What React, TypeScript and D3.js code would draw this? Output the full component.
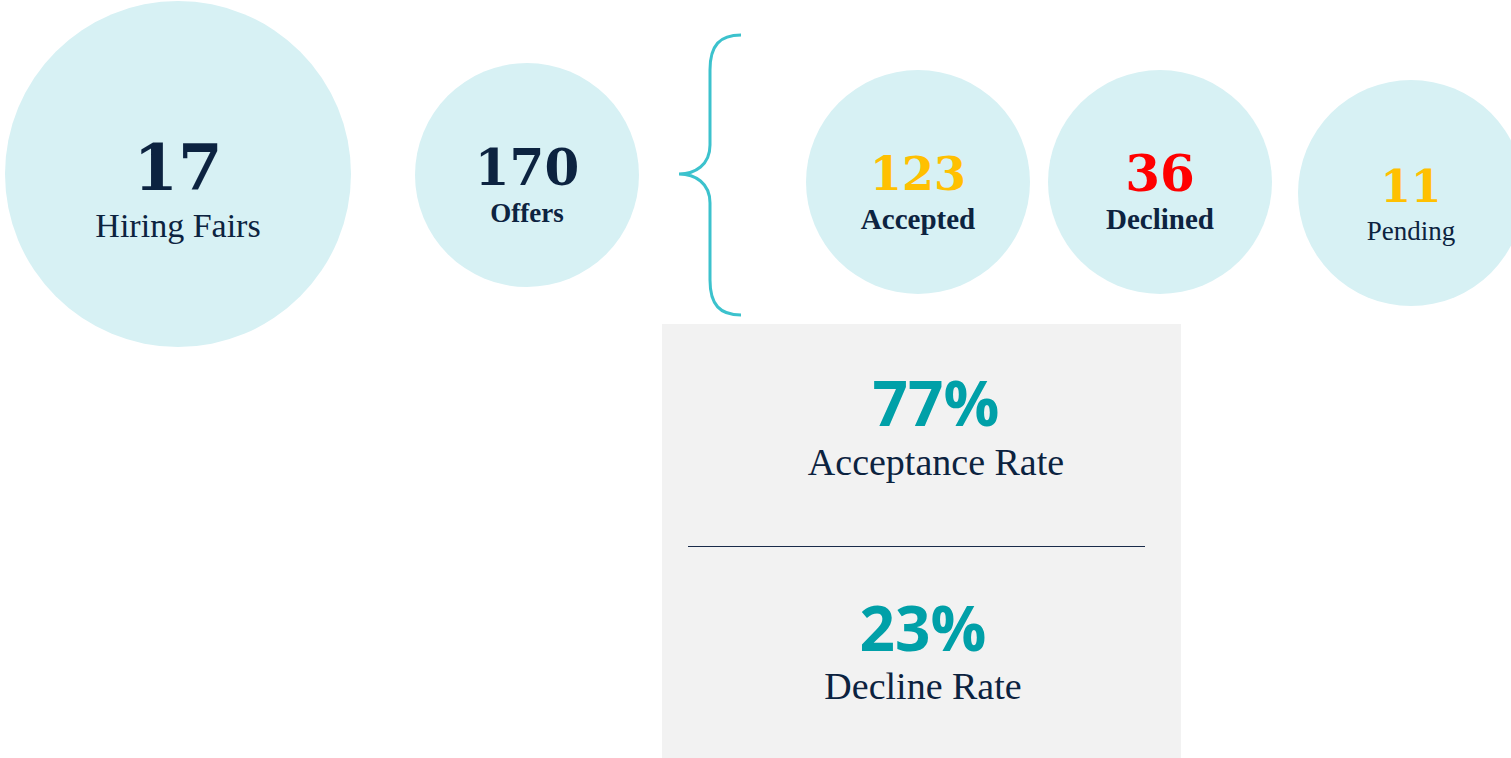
import React, { useRef, useEffect } from 'react';
import * as d3 from 'd3';

const metricLabels = ['Hiring Fairs', 'Offers', 'Accepted', 'Declined', 'Pending'];
const metricValues = [17, 170, 123, 36, 11];
const metricColors = ['#0c2340', '#0c2340', '#ffc000', '#ff0000', '#ffc000'];
const metricBold = [false, true, true, true, false];

const rateLabels = ['Acceptance Rate', 'Decline Rate'];
const rateValues = [77, 23];

// layout (not data)
const circleX = [178, 527, 918, 1160, 1411];
const circleY = [174, 175, 182, 182, 193];
const circleR = [173, 112, 112, 112, 113];
const numSize = [64, 50, 46, 50, 44];
const numBase = [190, 185, 190, 191, 202];
const labSize = [34, 27, 29, 29, 27];
const labBase = [237, 222, 229, 229, 240];

const navy = '#0c2340';
const serifNum = "'DejaVu Serif', serif";
const serifText = "'Liberation Serif', 'Times New Roman', serif";

function App() {
    const ref = useRef(null);
    useEffect(() => {
        const svg = d3.select(ref.current);
        svg.selectAll('*').remove();

        const data = metricLabels.map((label, i) => ({
            label,
            value: metricValues[i],
            color: metricColors[i],
            bold: metricBold[i],
            x: circleX[i], y: circleY[i], r: circleR[i],
            ns: numSize[i], nb: numBase[i], ls: labSize[i], lb: labBase[i]
        }));

        const fmt = d3.format('d');

        const g = svg.selectAll('g.metric').data(data).enter().append('g').attr('class', 'metric');
        g.append('circle')
            .attr('cx', d => d.x)
            .attr('cy', d => d.y)
            .attr('r', d => d.r)
            .attr('fill', '#d7f1f4');
        g.append('text')
            .attr('x', d => d.x)
            .attr('y', d => d.nb)
            .attr('text-anchor', 'middle')
            .attr('font-family', serifNum)
            .attr('font-weight', 'bold')
            .attr('font-size', d => d.ns)
            .attr('fill', d => d.color)
            .text(d => fmt(d.value));
        g.append('text')
            .attr('x', d => d.x)
            .attr('y', d => d.lb)
            .attr('text-anchor', 'middle')
            .attr('font-family', serifText)
            .attr('font-weight', d => d.bold ? 'bold' : 'normal')
            .attr('font-size', d => d.ls)
            .attr('fill', navy)
            .text(d => d.label);

        // curly brace from Offers to the breakdown
        const brace = d3.path();
        brace.moveTo(741, 35);
        brace.bezierCurveTo(720, 35, 710, 45, 710, 70);
        brace.lineTo(710, 145);
        brace.bezierCurveTo(710, 165, 695, 174, 679, 174);
        brace.bezierCurveTo(695, 174, 710, 183, 710, 203);
        brace.lineTo(710, 280);
        brace.bezierCurveTo(710, 305, 720, 315, 741, 315);
        svg.append('path')
            .attr('d', brace.toString())
            .attr('fill', 'none')
            .attr('stroke', '#3cc2cd')
            .attr('stroke-width', 3);

        // rates panel
        svg.append('rect')
            .attr('x', 662).attr('y', 324)
            .attr('width', 519).attr('height', 440)
            .attr('fill', '#f2f2f2');
        svg.append('line')
            .attr('x1', 688).attr('x2', 1145)
            .attr('y1', 546.5).attr('y2', 546.5)
            .attr('stroke', '#1a2b4a').attr('stroke-width', 1);

        const rateX = [936, 923];
        const rateNumBase = [426, 651];
        const rateLabBase = [475, 699];
        const rg = svg.selectAll('g.rate').data(rateValues).enter().append('g').attr('class', 'rate');
        rg.append('text')
            .attr('x', (d, i) => rateX[i])
            .attr('y', (d, i) => rateNumBase[i])
            .attr('text-anchor', 'middle')
            .attr('font-family', "'Open Sans', sans-serif")
            .attr('font-weight', 'bold')
            .attr('font-size', 62)
            .attr('fill', '#00a0a8')
            .text(d => d + '%');
        rg.append('text')
            .attr('x', (d, i) => rateX[i])
            .attr('y', (d, i) => rateLabBase[i])
            .attr('text-anchor', 'middle')
            .attr('font-family', serifText)
            .attr('font-size', 38)
            .attr('fill', navy)
            .text((d, i) => rateLabels[i]);
    }, []);
    return (
        <svg ref={ref} width="1511" height="758"
            style={{ position: 'absolute', left: 0, top: 0, background: '#fff' }}></svg>
    );
}

export default App;
